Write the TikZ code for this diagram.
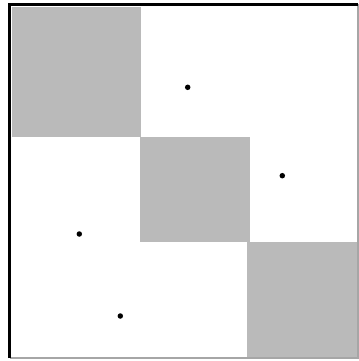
\documentclass[tikz,border=0pt]{standalone}
\usepackage{tikz}

\begin{document}
\begin{tikzpicture}[x=0.01cm,y=-0.01cm]

\tikzset{
  block/.style={
    fill=black!27,
  },
  point node/.style={
    circle,
    fill=black,
    inner sep=0pt,
    minimum size=0.055cm,
  }
}

% Canvas
\useasboundingbox (0,0) rectangle (359,361);

% Diagonal blocks
\fill[block] (12,7)    rectangle (141,137);
\fill[block] (140,137) rectangle (250,242);
\fill[block] (247,242) rectangle (358,357);

% Frame
\draw[black!35, line width=0.4pt] (358,4.5) -- (358,358) -- (9.5,358);
\draw[line width=0.65pt] (9.5,358) -- (9.5,4.5) -- (358,4.5);

% Points
\node[point node] (p1) at (187.7,87.3)  {};
\node[point node] (p2) at (282.3,175.7) {};
\node[point node] (p3) at (79.3,234)    {};
\node[point node] (p4) at (120.3,316)   {};

\end{tikzpicture}
\end{document}
